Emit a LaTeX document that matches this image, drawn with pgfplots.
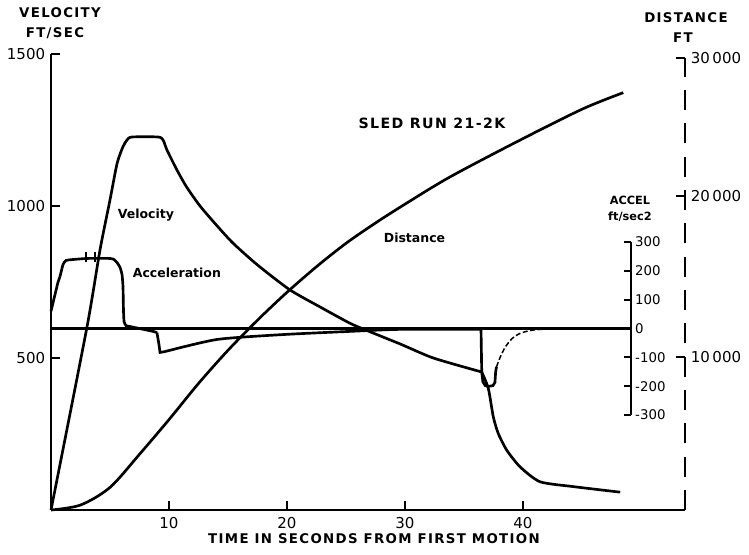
\documentclass[border=0pt]{standalone}
\usepackage{fontspec}
\setmainfont{DejaVu Sans}
\newfontfamily\titlefont[LetterSpace=10]{DejaVu Sans}
\usepackage{pgfplots}
\pgfplotsset{compat=1.18}
\pgfplotsset{
  common/.style={
    scale only axis, clip=false, anchor=south west,
    tick align=inside,
    major tick length=5.5pt,
    tick style={line width=1.3pt, black, solid},
    scaled ticks=false,
    /pgf/number format/assume math mode=true,
    /pgf/number format/1000 sep={},
    every axis plot/.append style={line width=1.6pt, black, no marks},
  }
}
\begin{document}
\begin{tikzpicture}[x=1pt,y=1pt]
% ---------------- main axis: velocity ----------------
\begin{axis}[common,
  at={(0,0)}, width=380.4pt, height=273.6pt,
  xmin=0, xmax=53.73, ymin=0, ymax=1500,
  axis lines*=left,
  axis line style={line width=1.6pt},
  xtick={10,20,30,40}, ytick={500,1000,1500},
  tick label style={font=\fontsize{9}{10}\selectfont},
  xticklabel style={yshift=-1pt},
]
\addplot[black, smooth, tension=0.4] coordinates {
 (0,0) (3.05,602) (4.15,855) (5.0,1020) (5.6,1140) (6.1,1195) (6.44,1217)
 (6.86,1227) (9.07,1227) (9.5,1217) (9.83,1184) (10.68,1118) (11.5,1062)
 (12.63,1000) (14,938) (15.42,878) (17.5,806) (20.25,724) (22.8,668)
 (25.3,615) (26.8,590) (29.6,546) (32.4,500) (36.5,454)};
\addplot[black, smooth, tension=0.4] coordinates {
 (36.5,454) (37.06,400) (37.48,307) (37.9,252) (38.62,197) (39.75,142)
 (41.44,93) (44.26,77) (47.94,60) (48.2,59)};
\end{axis}
% ---------------- distance axis ----------------
\begin{axis}[common,
  at={(0,0)}, width=380.4pt, height=271.2pt,
  xmin=0, xmax=53.73, ymin=0, ymax=30000,
  axis x line=none, axis y line*=right,
  y axis line style={line width=1.5pt, dash pattern=on 12pt off 8pt},
  ytick={10155,20841,30000},
  yticklabels={10\,000,20\,000,30\,000},
  tick label style={font=\fontsize{9}{10}\selectfont},
]
\addplot[black, smooth, tension=0.5] coordinates {
 (0,0) (2.5,330) (5,1500) (7.5,3700) (10,6000) (12.5,8400) (15,10600)
 (17.5,12600) (20,14450) (22.5,16150) (25,17700) (27.5,19050) (30,20300)
 (33.8,22100) (39.5,24450) (45,26600) (48.5,27700)};
\end{axis}
% ---------------- acceleration axis ----------------
\begin{axis}[common,
  at={(0,57pt)}, width=348pt, height=103.8pt,
  xmin=0, xmax=49.15, ymin=-300, ymax=300,
  axis x line=none, axis y line*=right,
  y axis line style={line width=1.4pt},
  ytick={-300,-200,...,300},
  major tick length=4.5pt,
  tick label style={font=\fontsize{8}{9}\selectfont},
  yticklabel style={xshift=-1pt},
]
\addplot[black, sharp plot] coordinates {(0,0) (49.15,0)};
\addplot[black, smooth, tension=0.3] coordinates {
 (0,60) (0.34,118) (0.59,160) (0.76,180) (1.02,222) (1.27,236) (1.78,239)
 (3.05,243) (5.0,243) (5.34,239) (5.59,229) (5.85,212) (6.02,187) (6.1,146)
 (6.14,66) (6.19,24) (6.36,10) (6.69,7) (8.64,-10) (8.98,-14)};
\addplot[black, sharp plot] coordinates {
 (8.98,-14) (9.15,-56) (9.24,-83) (9.66,-80)};
\addplot[black, smooth, tension=0.4] coordinates {
 (9.66,-80) (14.07,-38) (19.66,-21) (25.34,-10) (29.58,-3) (36.44,-3)};
\addplot[black, sharp plot] coordinates {
 (36.44,-3) (36.5,-150) (36.6,-185) (36.8,-198) (37.05,-201) (37.45,-198)
 (37.62,-187) (37.68,-150) (37.75,-133)};
\addplot[black, line width=0.9pt, dash pattern=on 3pt off 1.5pt, smooth, tension=0.5] coordinates {
 (37.75,-133) (38.05,-101) (38.47,-66) (39.07,-35) (39.75,-17) (40.6,-7)
 (41.44,-3) (42.5,-1)};
\addplot[black, line width=1pt] coordinates {(2.97,232) (2.97,266)};
\addplot[black, line width=1pt] coordinates {(3.73,232) (3.73,266)};
\end{axis}
% ---------------- texts ----------------
\node[font=\titlefont\bfseries\fontsize{8}{9}\selectfont] at (5.4,298.2) {VELOCITY};
\node[font=\titlefont\bfseries\fontsize{8}{9}\selectfont] at (2.4,286.2) {FT/SEC};
\node[font=\titlefont\bfseries\fontsize{8}{9}\selectfont] at (381,295.2) {DISTANCE};
\node[font=\titlefont\bfseries\fontsize{8}{9}\selectfont] at (379.2,283.2) {FT};
\node[font=\bfseries\fontsize{6.8}{8}\selectfont] at (347.4,186) {ACCEL};
\node[font=\bfseries\fontsize{6.8}{8}\selectfont] at (347.4,175.8) {ft/sec2};
\node[font=\titlefont\bfseries\fontsize{8.5}{10}\selectfont] at (228.6,232.2) {SLED RUN 21-2K};
\node[font=\titlefont\bfseries\fontsize{8}{9}\selectfont] at (193.8,-17.4) {TIME IN SECONDS FROM FIRST MOTION};
\node[anchor=west, font=\bfseries\fontsize{7.5}{9}\selectfont] at (36.6,177) {Velocity};
\node[anchor=west, font=\bfseries\fontsize{7.5}{9}\selectfont] at (45.6,142.2) {Acceleration};
\node[anchor=west, font=\bfseries\fontsize{7.5}{9}\selectfont] at (196.2,163.2) {Distance};
\pgfresetboundingbox
\path[use as bounding box] (-30.6,-26.4) rectangle (418.8,306);
\end{tikzpicture}
\end{document}
